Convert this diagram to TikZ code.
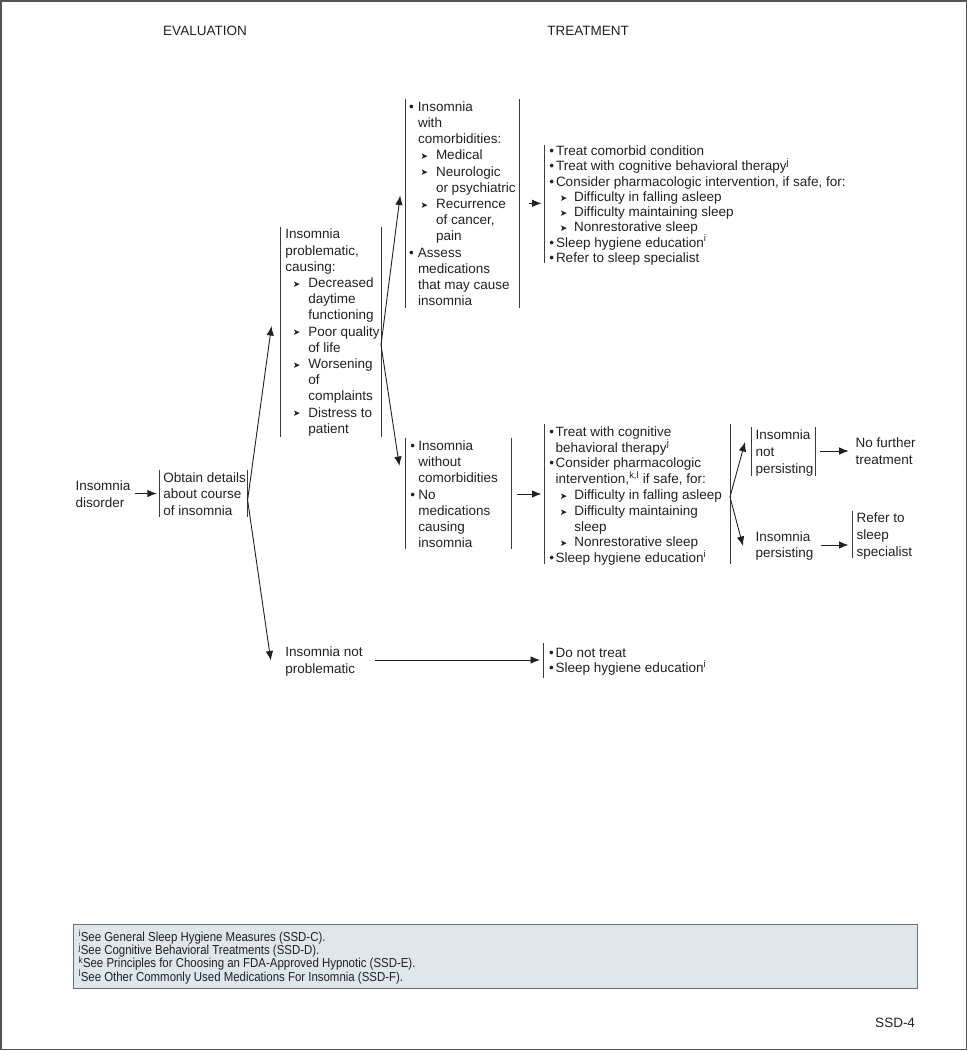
\documentclass[tikz,border=0pt]{standalone}
\usepackage{fontspec}
\setmainfont{Liberation Sans}
\newfontfamily\dv{DejaVu Sans}
\newfontfamily\nar[FakeStretch=0.88]{Liberation Sans}
\usetikzlibrary{arrows.meta,calc}
\definecolor{ink}{HTML}{231F20}
\definecolor{barc}{HTML}{3A3A3A}
\definecolor{fnfill}{HTML}{DFE7EC}
\definecolor{fnline}{HTML}{6D6E71}
\definecolor{frame}{HTML}{555555}
\newcommand\arw{\raisebox{0.2pt}{\dv\fontsize{9}{9}\selectfont ➤}}
\newcommand\ar[2]{\hspace*{#1pt}\makebox[#2pt][l]{\arw}}
\newcommand\bu[1]{\makebox[#1pt][l]{\textbullet}}
\newcommand\ind[1]{\hspace*{#1pt}}
\newcommand\lns[2]{{\fontsize{13.5}{#1}\selectfont\begin{tabular}[t]{@{}l@{}}#2\end{tabular}}}
\newcommand\spr[1]{\smash{\textsuperscript{#1}}}
\tikzset{
  txt/.style={anchor=base west, inner sep=0pt, outer sep=0pt, text=ink},
  hdr/.style={anchor=base, inner sep=0pt, text=ink, font=\fontsize{13.5}{16}\selectfont},
  frm/.style={inner sep=0pt, outer sep=0pt, anchor=north west, draw=none},
  bar/.style={draw=barc, line width=1pt},
  arr/.style={draw=ink, line width=0.9pt, -{Latex[length=9.5pt,width=7.5pt]}},
}
\begin{document}
\begin{tikzpicture}[x=1pt,y=-1pt]
\useasboundingbox (0,0) rectangle (967,1050);
\draw[frame, line width=1.5pt] (0.75,0.75) rectangle (966.25,1049.25);

% headers
\node[hdr] (hev) at (205,35) {EVALUATION};
\node[hdr] (htr) at (588,35) {TREATMENT};

% frames (bars)
\node[frm, minimum width=88.2pt, minimum height=47pt] (obt) at (159.3,470) {};
\node[frm, minimum width=100.3pt, minimum height=210pt] (prb) at (280.7,226.7) {};
\node[frm, minimum width=114pt, minimum height=209pt] (cmb) at (405.3,99) {};
\node[frm, minimum width=105.3pt, minimum height=111pt] (wob) at (405.7,438.3) {};
\node[frm, minimum width=300pt, minimum height=118.3pt] (tb1) at (544,145) {};
\node[frm, minimum width=186pt, minimum height=140pt] (tb2) at (544,424) {};
\node[frm, minimum width=64pt, minimum height=49pt] (npb) at (751,427) {};
\node[frm, minimum width=60pt, minimum height=47.5pt] (rfb) at (852.5,510.8) {};
\node[frm, minimum width=200pt, minimum height=35pt] (dnb) at (543.5,643) {};

\foreach \b in {obt,prb,cmb,wob,tb2,npb}
  \draw[bar] (\b.north west) -- (\b.south west) (\b.north east) -- (\b.south east);
\foreach \b in {tb1,rfb,dnb}
  \draw[bar] (\b.north west) -- (\b.south west);

% texts
\node[txt] (dis) at (75.7,490.5) {\lns{16.5}{Insomnia\\disorder}};
\node[txt] (obtt) at (163.3,482.3) {\lns{16.5}{Obtain details\\about course\\of insomnia}};
\node[txt] (prbt) at (285.3,238.8) {\lns{16.2}{Insomnia\\problematic,\\causing:\\
\ar{7.5}{15.5}Decreased\\\ind{23}daytime\\\ind{23}functioning\\
\ar{7.5}{15.5}Poor quality\\\ind{23}of life\\
\ar{7.5}{15.5}Worsening\\\ind{23}of\\\ind{23}complaints\\
\ar{7.5}{15.5}Distress to\\\ind{23}patient}};
\node[txt] (cmbt) at (409,111.2) {\lns{16.2}{\bu{9}Insomnia\\\ind{9}with\\\ind{9}comorbidities:\\
\ar{11.5}{15.5}Medical\\\ar{11.5}{15.5}Neurologic\\\ind{27}or psychiatric\\
\ar{11.5}{15.5}Recurrence\\\ind{27}of cancer,\\\ind{27}pain\\
\bu{9}Assess\\\ind{9}medications\\\ind{9}that may cause\\\ind{9}insomnia}};
\node[txt] (tb1t) at (549.3,155.5) {\lns{15.25}{\bu{6.7}Treat comorbid condition\\
\bu{6.7}Treat with cognitive behavioral therapy\spr{j}\\
\bu{6.7}Consider pharmacologic intervention, if safe, for:\\
\ar{10.5}{14.2}Difficulty in falling asleep\\
\ar{10.5}{14.2}Difficulty maintaining sleep\\
\ar{10.5}{14.2}Nonrestorative sleep\\
\bu{6.7}Sleep hygiene education\spr{i}\\
\bu{6.7}Refer to sleep specialist}};
\node[txt] (wobt) at (410.3,450.5) {\lns{16.2}{\bu{8}Insomnia\\\ind{8}without\\\ind{8}comorbidities\\
\bu{8}No\\\ind{8}medications\\\ind{8}causing\\\ind{8}insomnia}};
\node[txt] (tb2t) at (549.3,436.2) {\lns{15.8}{\bu{6.4}Treat with cognitive\\\ind{6.4}behavioral therapy\spr{j}\\
\bu{6.4}Consider pharmacologic\\\ind{6.4}intervention,\spr{k,l} if safe, for:\\
\ar{10.5}{14.5}Difficulty in falling asleep\\
\ar{10.5}{14.5}Difficulty maintaining\\\ind{25}sleep\\
\ar{10.5}{14.5}Nonrestorative sleep\\
\bu{6.4}Sleep hygiene education\spr{i}}};
\node[txt] (npt) at (755.5,439.7) {\lns{16.8}{Insomnia\\not\\persisting}};
\node[txt] (nft) at (855.7,447.8) {\lns{16.7}{No further\\treatment}};
\node[txt] (pst) at (755.5,541.2) {\lns{16.6}{Insomnia\\persisting}};
\node[txt] (rft) at (856.5,522.8) {\lns{16.7}{Refer to\\sleep\\specialist}};
\node[txt] (npr) at (285.3,656.8) {\lns{17}{Insomnia not\\problematic}};
\node[txt] (dnt) at (549,657.5) {\lns{15.2}{\bu{6.7}Do not treat\\\bu{6.7}Sleep hygiene education\spr{i}}};

% branch points and arrow ends
\coordinate (br1) at (247.6,500);
\coordinate (e1u) at (271.5,326);
\coordinate (e1d) at (270.8,660.5);
\coordinate (br2) at (381,345);
\coordinate (e2u) at (400.2,195.5);
\coordinate (e2d) at (399.4,466);
\coordinate (br3) at (730,497);
\coordinate (e3u) at (745,442);
\coordinate (e3d) at (743,546);

% connectors
\draw[arr, shorten <=5pt, shorten >=2.5pt] (dis.east |- obt.west) -- (obt.west);
\draw[arr] (br1) -- (e1u);
\draw[arr] (br1) -- (e1d);
\draw[arr] (br2) -- (e2u);
\draw[arr] (br2) -- (e2d);
\draw[arr, shorten <=10pt, shorten >=2.5pt] (cmb.east |- 0,203.3) -- (tb1.west |- 0,203.3);
\draw[arr, shorten <=5.5pt, shorten >=2.5pt] (wob.east |- 0,494) -- (tb2.west |- 0,494);
\draw[arr] (br3) -- (e3u);
\draw[arr] (br3) -- (e3d);
\draw[arr, shorten <=5pt, shorten >=7pt] (npb.east |- 0,451) -- (nft.west |- 0,451);
\draw[arr, shorten <=8pt, shorten >=4pt] (pst.east |- 0,545) -- (rfb.west |- 0,545);
\draw[arr, shorten <=12pt, shorten >=3.5pt] (npr.east |- 0,660) -- (dnb.west |- 0,660);

% footnotes
\node[frm, draw=fnline, fill=fnfill, line width=1pt, minimum width=844pt, minimum height=64pt] (fnb) at (73.5,924.5) {};
\node[txt] (fnt) at (78.5,941) {{\nar\fontsize{13}{13.1}\selectfont\begin{tabular}[t]{@{}l@{}}
\spr{i}See General Sleep Hygiene Measures (SSD-C).\\
\spr{j}See Cognitive Behavioral Treatments (SSD-D).\\
\spr{k}See Principles for Choosing an FDA-Approved Hypnotic (SSD-E).\\
\spr{l}See Other Commonly Used Medications For Insomnia (SSD-F).
\end{tabular}}};

\node[txt, anchor=base east, font=\fontsize{13.5}{16}\selectfont] (pg) at (915,1027) {SSD-4};
\end{tikzpicture}
\end{document}
